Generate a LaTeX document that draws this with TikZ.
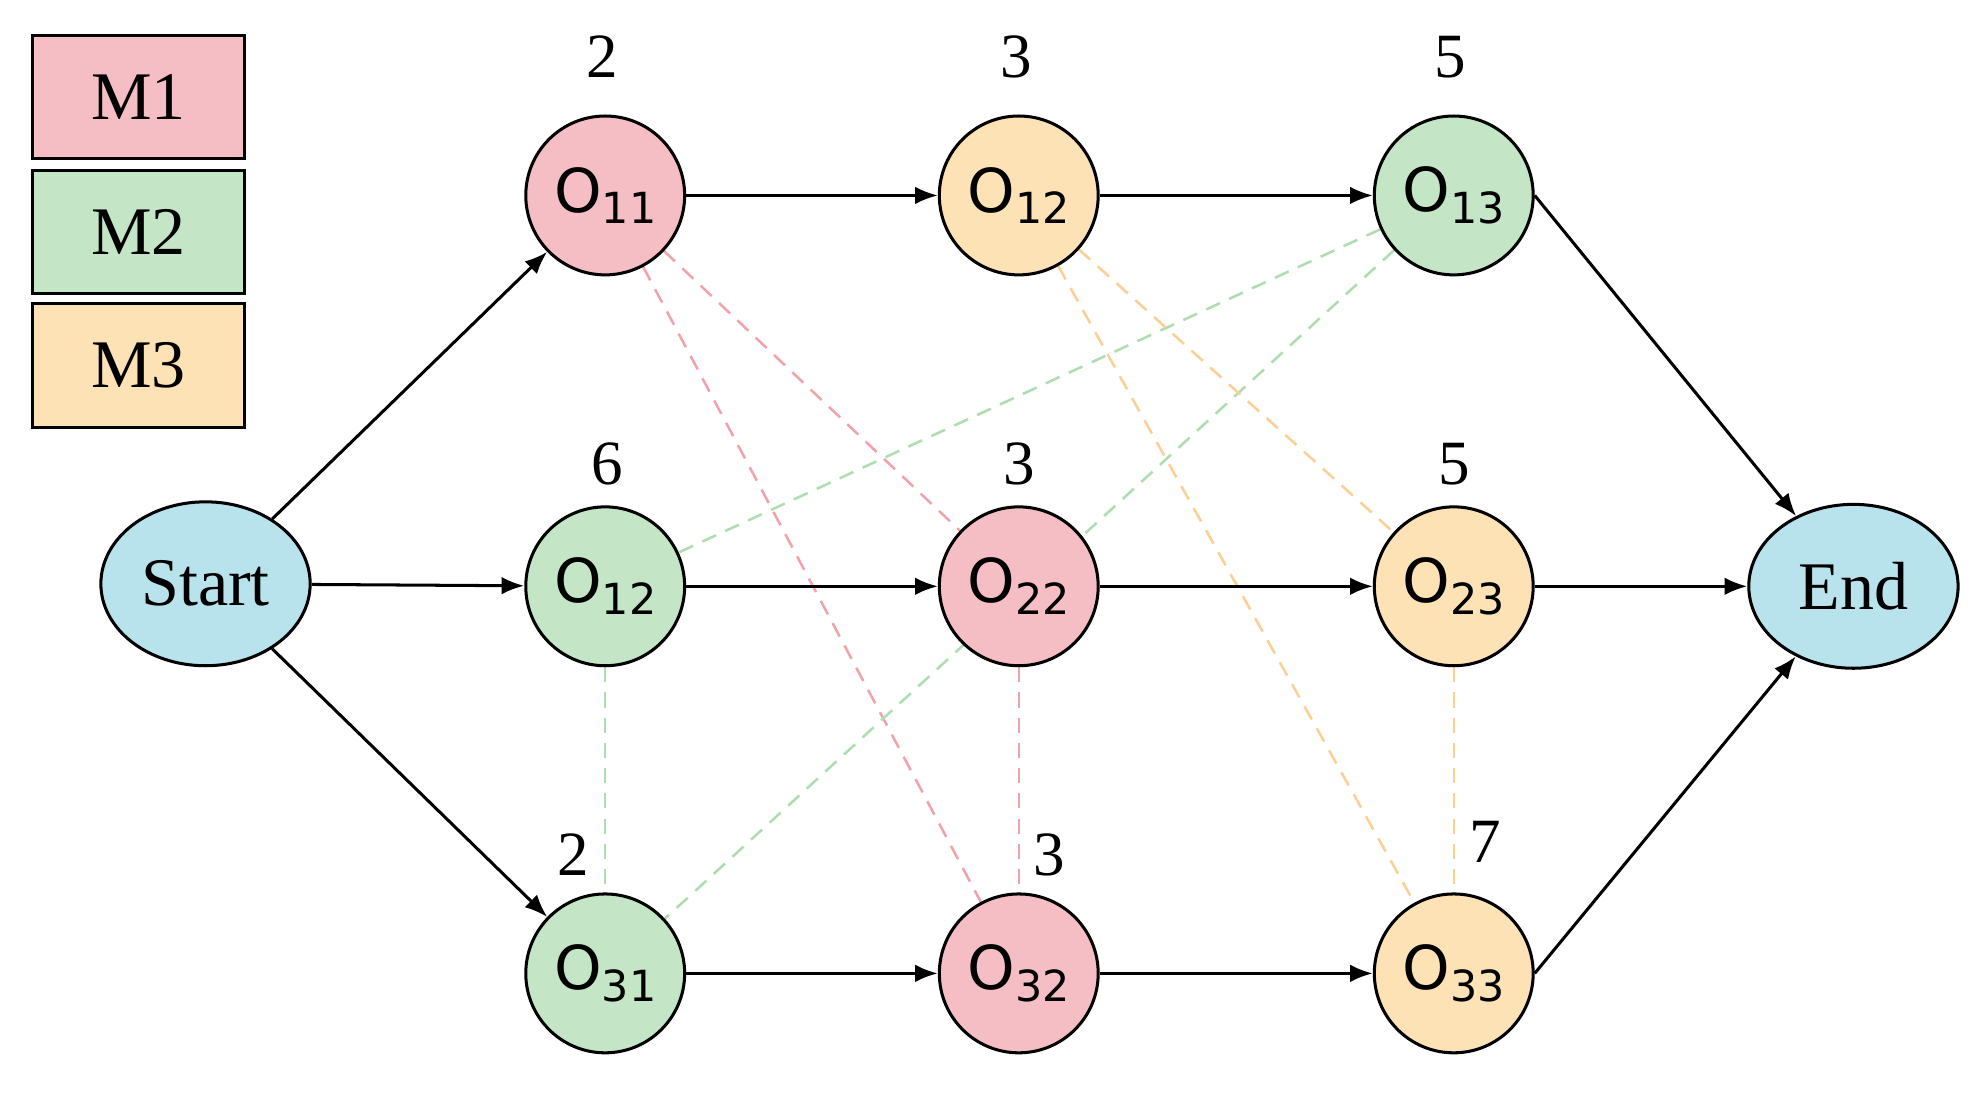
\documentclass[tikz,border=0pt]{standalone}
\usepackage{fontspec}
\setmainfont{Liberation Serif}
\newfontfamily\osans{DejaVu Sans}
\usetikzlibrary{shapes.geometric,arrows.meta,backgrounds}
\definecolor{cpink}{HTML}{F4BEC4}
\definecolor{cgreen}{HTML}{C4E6C6}
\definecolor{corange}{HTML}{FDE2B6}
\definecolor{cblue}{HTML}{B9E3EC}
\definecolor{dpink}{HTML}{F2A2AA}
\definecolor{dgreen}{HTML}{AEDDB0}
\definecolor{dorange}{HTML}{FBCF95}
\newcommand{\myop}[1]{O\raisebox{-0.35ex}{\fontsize{17}{17}\selectfont #1}}
\begin{document}
\begin{tikzpicture}[x=0.5pt,y=-0.5pt,
 op/.style={circle,draw,line width=1.2pt,minimum size=63pt,inner sep=0pt,font=\osans\fontsize{24}{24}\selectfont},
 ell/.style={ellipse,draw,line width=1.2pt,fill=cblue,minimum width=83pt,minimum height=65pt,inner sep=0pt,font=\fontsize{27}{27}\selectfont},
 leg/.style={draw,line width=1.2pt,minimum width=84pt,minimum height=49pt,inner sep=0pt,font=\fontsize{27}{27}\selectfont},
 num/.style={font=\fontsize{25}{25}\selectfont},
 arr/.style={-{Latex[length=9pt,width=7pt]},line width=1.2pt},
 dsh/.style={line width=1pt,dash pattern=on 6pt off 4pt}]
\useasboundingbox (0,0) rectangle (1568,874);
\node[leg,fill=cpink] (m1) at (110,77) {M1};
\node[leg,fill=cgreen] (m2) at (110,184) {M2};
\node[leg,fill=corange] (m3) at (110,290) {M3};
\node[ell] (s) at (163,463) {Start};
\node[ell] (e) at (1470,465) {End};
\node[op,fill=cpink] (a1) at (480,155) {\myop{11}};
\node[op,fill=corange] (a2) at (808,155) {\myop{12}};
\node[op,fill=cgreen] (a3) at (1153,155) {\myop{13}};
\node[op,fill=cgreen] (b1) at (480,465) {\myop{12}};
\node[op,fill=cpink] (b2) at (808,465) {\myop{22}};
\node[op,fill=corange] (b3) at (1153,465) {\myop{23}};
\node[op,fill=cgreen] (c1) at (480,772) {\myop{31}};
\node[op,fill=cpink] (c2) at (808,772) {\myop{32}};
\node[op,fill=corange] (c3) at (1153,772) {\myop{33}};
\node[num] (n1) at (478,45) {2};
\node[num] (n2) at (806,45) {3};
\node[num] (n3) at (1150,45) {5};
\node[num] (n4) at (482,368) {6};
\node[num] (n5) at (808,368) {3};
\node[num] (n6) at (1153,368) {5};
\node[num] (n7) at (455,678) {2};
\node[num] (n8) at (832,678) {3};
\node[num] (n9) at (1178,668) {7};
\begin{scope}[on background layer]
\draw[dsh,dpink] (a1) -- (b2); \draw[dsh,dpink] (a1) -- (c2); \draw[dsh,dpink] (b2) -- (c2);
\draw[dsh,dgreen] (a3) -- (b1); \draw[dsh,dgreen] (a3) -- (c1); \draw[dsh,dgreen] (b1) -- (c1);
\draw[dsh,dorange] (a2) -- (b3); \draw[dsh,dorange] (a2) -- (c3); \draw[dsh,dorange] (b3) -- (c3);
\end{scope}
\draw[arr] (s) -- (a1); \draw[arr] (s) -- (b1); \draw[arr] (s) -- (c1);
\draw[arr] (a1) -- (a2); \draw[arr] (a2) -- (a3);
\draw[arr] (b1) -- (b2); \draw[arr] (b2) -- (b3);
\draw[arr] (c1) -- (c2); \draw[arr] (c2) -- (c3);
\draw[arr] (a3.east) -- (e); \draw[arr] (b3) -- (e); \draw[arr] (c3.east) -- (e);
\end{tikzpicture}
\end{document}
